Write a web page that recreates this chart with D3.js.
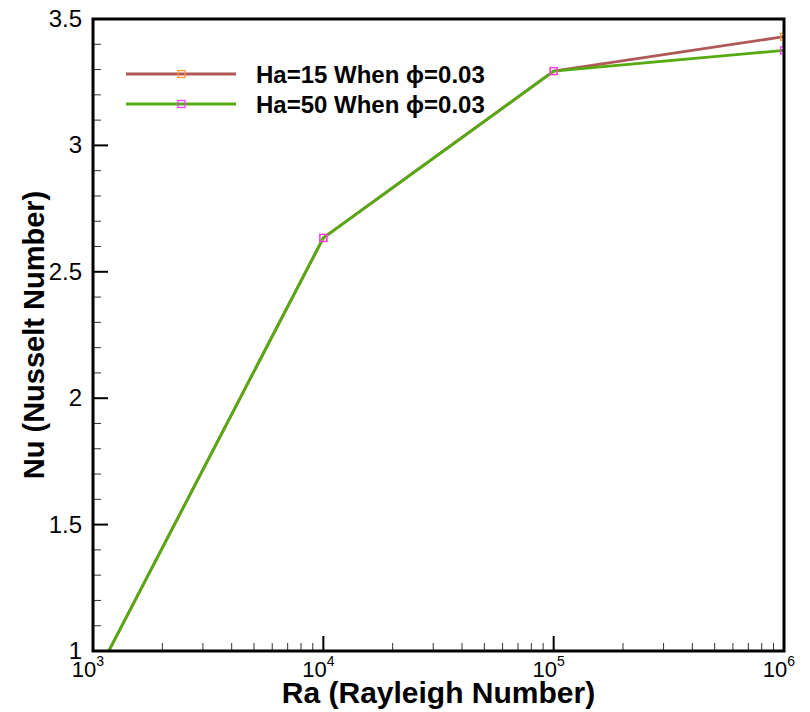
<!DOCTYPE html>
<html>
<head>
<meta charset="utf-8">
<script src="https://cdn.jsdelivr.net/npm/d3@7"></script>
<style>
  body { margin: 0; background: #fff; }
  svg { display: block; font-family: "Liberation Sans", Arial, sans-serif; }
</style>
</head>
<body>
<svg id="chart" width="810" height="712"></svg>
<script>
const raValues = [1e3, 1e4, 1e5, 1e6]
const nuHa15 = [0.88, 2.634, 3.294, 3.430]
const nuHa50 = [0.88, 2.634, 3.294, 3.376]
const seriesNames = ['Ha=15 When \u03d5=0.03', 'Ha=50 When \u03d5=0.03']
const lineColors = ['#b05858', '#55aa10']
const markerColors = ['#ff9933', '#ff33ff']
const yTicks = [1, 1.5, 2, 2.5, 3, 3.5]
const xDecades = [3, 4, 5, 6]

const margin = { top: 19, right: 26, bottom: 61, left: 93 }
const width = 810 - margin.left - margin.right
const height = 712 - margin.top - margin.bottom

const svg = d3.select('#chart')
const g = svg.append('g')
  .attr('transform', 'translate(' + margin.left + ',' + margin.top + ')')

const x = d3.scaleLog().domain([1e3, 1e6]).range([0, width])
const y = d3.scaleLinear().domain([1, 3.5]).range([height, 0])

g.append('clipPath').attr('id', 'clip')
  .append('rect').attr('width', width).attr('height', height)

// minor ticks
const yMinor = d3.range(10, 36).map(d => d / 10).filter(d => !yTicks.some(t => Math.abs(t - d) < 1e-6))
g.selectAll('.ymin').data(yMinor).enter().append('line')
  .attr('x1', 0).attr('x2', 8)
  .attr('y1', d => y(d)).attr('y2', d => y(d))
  .attr('stroke', '#333').attr('stroke-width', 1)
g.selectAll('.ymaj').data(yTicks).enter().append('line')
  .attr('x1', 0).attr('x2', 15)
  .attr('y1', d => y(d)).attr('y2', d => y(d))
  .attr('stroke', '#000').attr('stroke-width', 2)

const xMinor = []
xDecades.slice(0, -1).forEach(e => { for (let k = 2; k < 10; k++) xMinor.push(k * Math.pow(10, e)) })
g.selectAll('.xmin').data(xMinor).enter().append('line')
  .attr('x1', d => x(d)).attr('x2', d => x(d))
  .attr('y1', height).attr('y2', height - 8)
  .attr('stroke', '#333').attr('stroke-width', 1)
g.selectAll('.xmaj').data(xDecades).enter().append('line')
  .attr('x1', d => x(Math.pow(10, d))).attr('x2', d => x(Math.pow(10, d)))
  .attr('y1', height).attr('y2', height - 15)
  .attr('stroke', '#000').attr('stroke-width', 2)

// tick labels
g.selectAll('.ylab').data(yTicks).enter().append('text')
  .attr('x', -11).attr('y', d => y(d) + 8)
  .attr('text-anchor', 'end')
  .attr('font-size', 24)
  .text(d => d)

const xl = g.selectAll('.xlab').data(xDecades).enter().append('text')
  .attr('x', d => x(Math.pow(10, d)) - 5).attr('y', height + 26)
  .attr('text-anchor', 'middle')
  .attr('font-size', 22)
xl.append('tspan').text('10')
xl.append('tspan').attr('font-size', 14).attr('dy', -11).text(d => d)

// data lines
const line = d3.line().x((d, i) => x(raValues[i])).y(d => y(d))
const series = [nuHa15, nuHa50]
const plot = g.append('g').attr('clip-path', 'url(#clip)')
series.forEach((s, si) => {
  plot.append('path').datum(s)
    .attr('d', line)
    .attr('fill', 'none')
    .attr('stroke', lineColors[si])
    .attr('stroke-width', 2.8)
})
series.forEach((s, si) => {
  plot.selectAll('.m' + si).data(s.slice(1)).enter().append('rect')
    .attr('x', (d, i) => x(raValues[i + 1]) - 3.5)
    .attr('y', d => y(d) - 3.5)
    .attr('width', 7).attr('height', 7)
    .attr('fill', 'none')
    .attr('stroke', markerColors[si])
    .attr('stroke-width', 1.3)
})

// frame
g.append('rect').attr('width', width).attr('height', height)
  .attr('fill', 'none').attr('stroke', '#000').attr('stroke-width', 3)

// legend
const legend = g.append('g').attr('transform', 'translate(33,55)')
seriesNames.forEach((name, i) => {
  const row = legend.append('g').attr('transform', 'translate(0,' + i * 30 + ')')
  row.append('line').attr('x1', 0).attr('x2', 110)
    .attr('stroke', lineColors[i]).attr('stroke-width', 2.8)
  row.append('rect').attr('x', 52).attr('y', -3.5).attr('width', 7).attr('height', 7)
    .attr('fill', 'none').attr('stroke', markerColors[i]).attr('stroke-width', 1.3)
  row.append('text').attr('x', 130).attr('y', 8.5)
    .attr('font-size', 24).attr('font-weight', 'bold')
    .text(name)
})

// axis titles
g.append('text')
  .attr('x', width / 2).attr('y', height + 52)
  .attr('text-anchor', 'middle')
  .attr('font-size', 30).attr('font-weight', 'bold')
  .text('Ra (Rayleigh Number)')
g.append('text')
  .attr('transform', 'translate(-49,' + height / 2 + ') rotate(-90)')
  .attr('text-anchor', 'middle')
  .attr('font-size', 29).attr('font-weight', 'bold')
  .text('Nu (Nusselt Number)')
</script>
</body>
</html>
